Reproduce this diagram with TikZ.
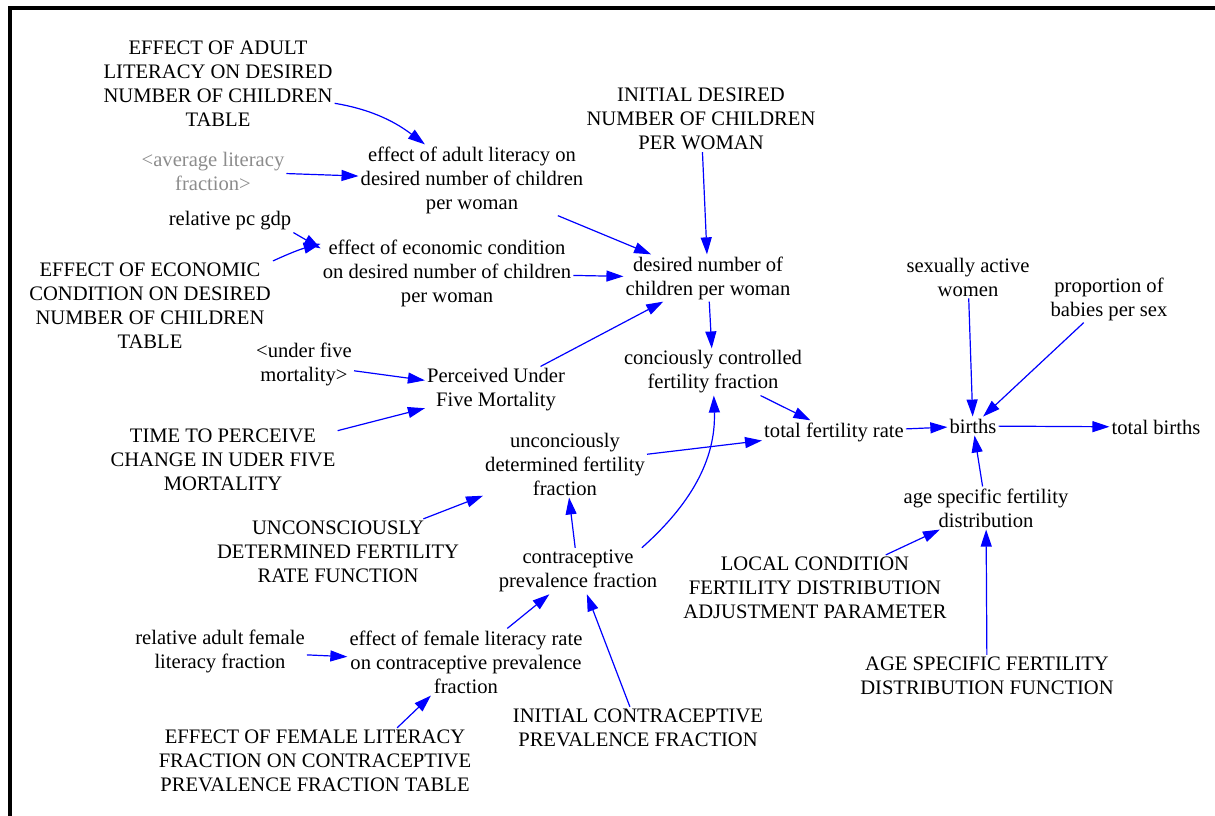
\documentclass[tikz,border=0pt]{standalone}
\usepackage{fontspec}
\setmainfont{Liberation Serif}
\usetikzlibrary{arrows.meta}
\begin{document}
\begin{tikzpicture}[x=1pt,y=-1pt,
  var/.style={align=center,inner sep=2pt,font=\fontsize{20.6}{24}\selectfont},
  shadowvar/.style={var,text=black!45},
  link/.style={draw=blue,line width=1.2pt,-{Triangle[length=17pt,width=11pt]}}]
\useasboundingbox (0,0) rectangle (1215,816);
% frame
\draw[line width=4pt] (10,816) -- (10,8) -- (1215,8);

% variables
\node[var] (ealt) at (218,84) {EFFECT OF ADULT\\LITERACY ON DESIRED\\NUMBER OF CHILDREN\\TABLE};
\node[shadowvar] (avg) at (213,171) {<average literacy\\fraction>};
\node[var] (effal) at (472,180) {effect of adult literacy on\\desired number of children\\per woman};
\node[var] (rpg) at (230,221) {relative pc gdp};
\node[var] (econtab) at (150,306) {EFFECT OF ECONOMIC\\CONDITION ON DESIRED\\NUMBER OF CHILDREN\\TABLE};
\node[var] (effec) at (447,273) {effect of economic condition\\on desired number of children\\per woman};
\node[var] (initd) at (701,119) {INITIAL DESIRED\\NUMBER OF CHILDREN\\PER WOMAN};
\node[var] (desired) at (708,278) {desired number of\\children per woman};
\node[var] (sexact) at (968,277) {sexually active\\women};
\node[var] (prop) at (1109,299) {proportion of\\babies per sex};
\node[var] (uf) at (304,364) {<under five\\mortality>};
\node[var] (puf) at (496,390) {Perceived Under\\Five Mortality};
\node[var] (time) at (223,460) {TIME TO PERCEIVE\\CHANGE IN UDER FIVE\\MORTALITY};
\node[var] (ccf) at (713,372) {conciously controlled\\fertility fraction};
\node[var] (tfr) at (834,432) {total fertility rate};
\node[var] (births) at (973,426) {births};
\node[var] (tb) at (1156,427) {total births};
\node[var] (ucf) at (565,464) {unconciously\\determined fertility\\fraction};
\node[var] (ucfun) at (338,552) {UNCONSCIOUSLY\\DETERMINED FERTILITY\\RATE FUNCTION};
\node[var] (asfd) at (986,508) {age specific fertility\\distribution};
\node[var] (cpf) at (578,571) {contraceptive\\prevalence fraction};
\node[var] (local) at (815,588) {LOCAL CONDITION\\FERTILITY DISTRIBUTION\\ADJUSTMENT PARAMETER};
\node[var] (raflf) at (220,651) {relative adult female\\literacy fraction};
\node[var] (efl) at (466,662) {effect of female literacy rate\\on contraceptive prevalence\\fraction};
\node[var] (asfun) at (987,676) {AGE SPECIFIC FERTILITY\\DISTRIBUTION FUNCTION};
\node[var] (icpf) at (638,728) {INITIAL CONTRACEPTIVE\\PREVALENCE FRACTION};
\node[var] (efltab) at (315,761) {EFFECT OF FEMALE LITERACY\\FRACTION ON CONTRACEPTIVE\\PREVALENCE FRACTION TABLE};

% causal links
\draw[link] (ealt) .. controls (375,110) and (398,124) .. (effal);
\draw[link] (avg) -- (effal);
\draw[link] (effal) -- (desired);
\draw[link] (rpg.south east) -- (effec.169);
\draw[link] (econtab.north east) to[bend left=5] (effec.167);
\draw[link] (effec) -- (desired);
\draw[link] (initd) -- (desired);
\draw[link] (puf) -- (desired);
\draw[link] (uf) -- (puf);
\draw[link] (time) -- (puf);
\draw[link] (desired) -- (ccf);
\draw[link] (ccf) -- (tfr);
\draw[link] (ucf) -- (tfr);
\draw[link] (cpf.20) .. controls (690,505) and (716,460) .. (ccf);
\draw[link] (cpf) -- (ucf);
\draw[link] (ucfun) -- (ucf);
\draw[link] (sexact) -- (births);
\draw[link] (prop) -- (births);
\draw[link] (tfr) -- (births);
\draw[link] (births) -- (tb);
\draw[link] (asfd) -- (births);
\draw[link] (local) -- (asfd);
\draw[link] (asfun) -- (asfd);
\draw[link] (efl) -- (cpf);
\draw[link] (raflf) -- (efl);
\draw[link] (efltab.22) -- (efl);
\draw[link] (icpf) -- (cpf);
\end{tikzpicture}
\end{document}
